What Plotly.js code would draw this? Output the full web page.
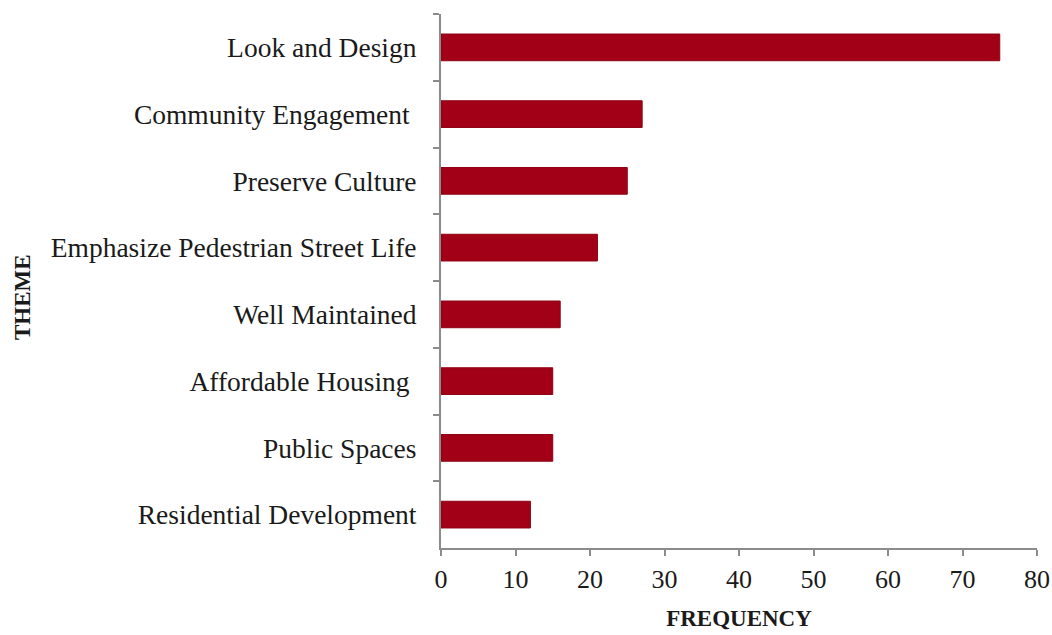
<!DOCTYPE html>
<html>
<head>
<meta charset="utf-8">
<script src="https://cdn.plot.ly/plotly-3.0.1.min.js"></script>
<style>html,body{margin:0;padding:0;background:#fff;}#chart{width:1052px;height:635px;}</style>
</head>
<body>
<div id="chart"></div>
<script>
var themes = ["Look and Design", "Community Engagement ", "Preserve Culture", "Emphasize Pedestrian Street Life", "Well Maintained", "Affordable Housing ", "Public Spaces", "Residential Development"];
var frequency = [75, 27, 25, 21, 16, 15, 15, 12];
var xTicks = [0, 10, 20, 30, 40, 50, 60, 70, 80];

var font = "Liberation Serif, DejaVu Serif, serif";

var trace = {
  type: "bar",
  orientation: "h",
  y: themes,
  x: frequency,
  width: 0.4,
  marker: {color: "#A10017", line: {color: "#8f0015", width: 1}},
  hoverinfo: "x+y"
};

var layout = {
  width: 1052,
  height: 635,
  margin: {l: 441, r: 15, t: 14, b: 87},
  paper_bgcolor: "#ffffff",
  plot_bgcolor: "#ffffff",
  showlegend: false,
  font: {family: font, color: "#1a1a1a", size: 26},
  xaxis: {
    range: [0, 80],
    tickvals: xTicks,
    ticktext: xTicks.map(String),
    showgrid: false,
    zeroline: false,
    showline: true,
    linecolor: "#8c8c8c",
    linewidth: 2,
    ticks: "outside",
    ticklen: 6,
    tickwidth: 2,
    tickcolor: "#8c8c8c",
    ticklabelstandoff: 1,
    tickfont: {family: font, size: 26, color: "#1a1a1a"},
    title: {text: "FREQUENCY", font: {family: font, size: 23, color: "#1a1a1a", weight: "bold"}, standoff: 17}
  },
  yaxis: {
    type: "category",
    categoryorder: "array",
    categoryarray: themes,
    autorange: "reversed",
    showgrid: false,
    zeroline: false,
    showline: true,
    linecolor: "#8c8c8c",
    linewidth: 2,
    ticks: "outside",
    tickson: "boundaries",
    ticklen: 6,
    tickwidth: 2,
    tickcolor: "#8c8c8c",
    ticklabelstandoff: 17,
    tickfont: {family: font, size: 27.5, color: "#1a1a1a"}
  },
  annotations: [{
    text: "THEME",
    xref: "paper", yref: "paper",
    x: -441/596 + 22/596, y: 0.47,
    xanchor: "center", yanchor: "middle",
    textangle: -90,
    showarrow: false,
    font: {family: font, size: 23, color: "#1a1a1a", weight: "bold"}
  }]
};

Plotly.newPlot("chart", [trace], layout, {displayModeBar: false, staticPlot: true});
</script>
</body>
</html>
